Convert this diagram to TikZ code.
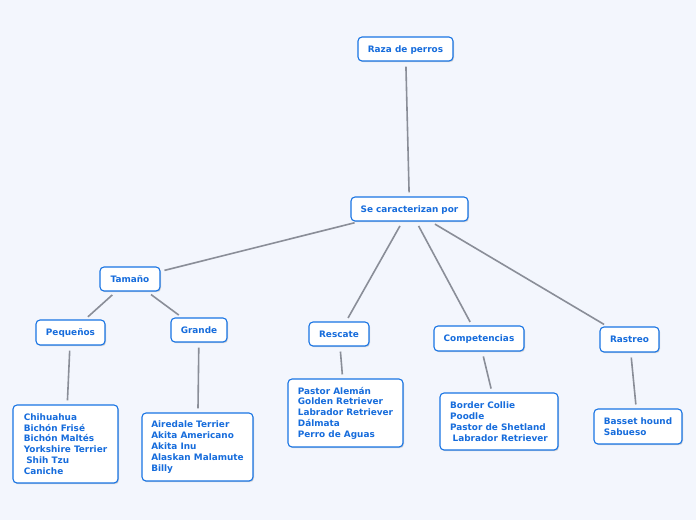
\documentclass[tikz,border=0pt]{standalone}
\usepackage{fontspec}
\setmainfont{DejaVu Sans}
\usetikzlibrary{shadows}
\definecolor{mapback}{RGB}{243,246,253}
\definecolor{mapblue}{RGB}{24,116,228}
\definecolor{maptext}{RGB}{22,108,220}
\definecolor{mapgray}{RGB}{138,142,152}
\tikzset{
  box-base/.style={
    draw=mapblue,
    fill=white,
    line width=1.1pt,
    rounded corners=4pt,
    text=maptext,
    font=\fontsize{8.9}{10.8}\selectfont\bfseries,
    inner sep=0pt,
    drop shadow={shadow xshift=1pt, shadow yshift=-1.2pt, opacity=0.35, fill=black!45}
  },
  box-topic/.style={
    box-base,
    text height=6.5pt,
    text depth=0pt
  },
  box-list/.style={
    box-base,
    align=left
  },
  link-line/.style={
    draw=mapgray,
    line width=1.6pt,
    shorten <=5pt,
    shorten >=4pt
  }
}
\begin{document}
\begin{tikzpicture}[x=1pt,y=-1pt]
  \fill[mapback] (0,0) rectangle (696,520);
  \useasboundingbox (0,0) rectangle (696,520);
  % main branch
  \node[box-topic, minimum width=95pt, minimum height=24pt] (raza) at (405.5,49) {Raza de perros};
  \node[box-topic, minimum width=117pt, minimum height=24pt] (rasgos) at (409.5,209) {Se caracterizan por};
  % categories
  \node[box-topic, minimum width=60pt, minimum height=24pt] (tamano) at (130,279) {Tamaño};
  \node[box-topic, minimum width=69pt, minimum height=25pt] (pequenos) at (70.5,332.5) {Pequeños};
  \node[box-topic, minimum width=56pt, minimum height=24pt] (grande) at (199,330) {Grande};
  \node[box-topic, minimum width=60pt, minimum height=24pt] (rescate) at (339,334) {Rescate};
  \node[box-topic, minimum width=90pt, minimum height=25pt] (competencias) at (479,338.5) {Competencias};
  \node[box-topic, minimum width=59pt, minimum height=25pt] (rastreo) at (629.5,339.5) {Rastreo};
  % breed lists
  \node[box-list, minimum width=105pt, minimum height=78pt] (lista-pequenos) at (65.5,444)
    {Chihuahua\\Bichón Frisé\\Bichón Maltés\\Yorkshire Terrier\\\hspace*{2.5pt}Shih Tzu\\Caniche};
  \node[box-list, minimum width=111pt, minimum height=68pt] (lista-grande) at (197.5,447)
    {Airedale Terrier\\Akita Americano\\Akita Inu\\Alaskan Malamute\\Billy};
  \node[box-list, minimum width=115pt, minimum height=68pt] (lista-rescate) at (345.5,413)
    {Pastor Alemán\\Golden Retriever\\Labrador Retriever\\Dálmata\\Perro de Aguas};
  \node[box-list, minimum width=118pt, minimum height=57pt] (lista-competencias) at (499,421.5)
    {Border Collie\\Poodle\\Pastor de Shetland\\\hspace*{2.5pt}Labrador Retriever};
  \node[box-list, minimum width=88pt, minimum height=35pt] (lista-rastreo) at (638,426.5)
    {Basset hound\\Sabueso};
  % connectors
  \draw[link-line] (raza) -- (rasgos);
  \foreach \dest in {tamano,rescate,competencias,rastreo}
    \draw[link-line] (rasgos) -- (\dest);
  \draw[link-line] (tamano) -- (pequenos);
  \draw[link-line] (tamano) -- (grande);
  \draw[link-line] (pequenos) -- (lista-pequenos);
  \draw[link-line] (grande) -- (lista-grande);
  \draw[link-line] (rescate) -- (lista-rescate);
  \draw[link-line] (competencias) -- (lista-competencias);
  \draw[link-line] (rastreo) -- (lista-rastreo);
\end{tikzpicture}
\end{document}
